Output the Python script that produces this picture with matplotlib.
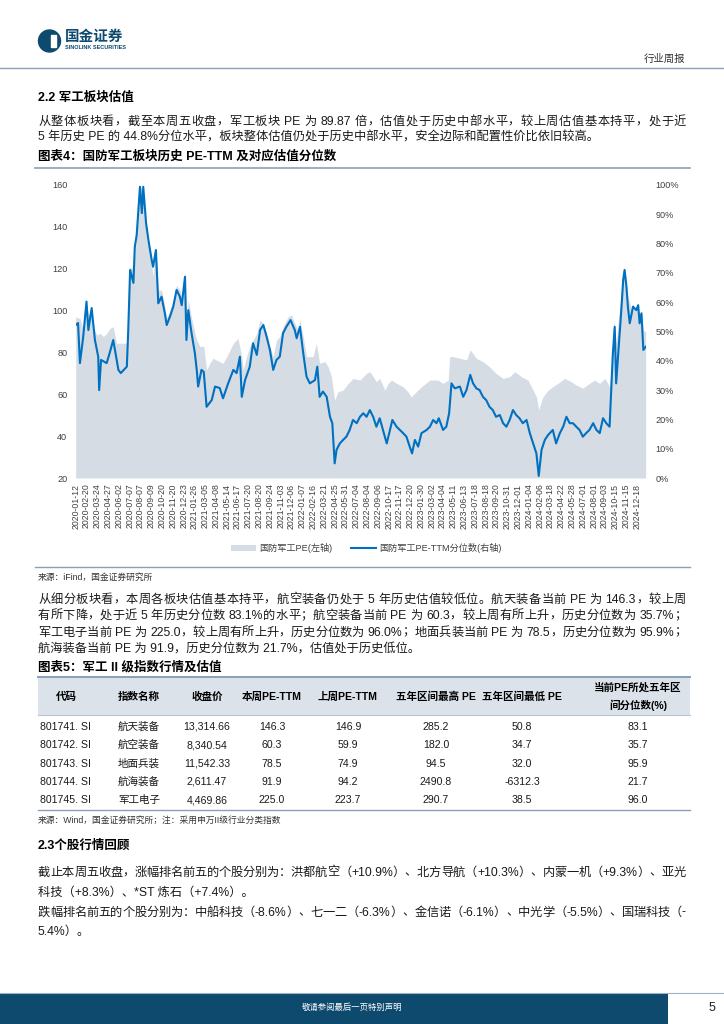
import re
import numpy as np
import matplotlib
matplotlib.use('Agg')
import matplotlib.pyplot as plt
from matplotlib.patches import Rectangle, Ellipse
from matplotlib.font_manager import FontProperties

FONTS = ['Liberation Sans', 'Noto Sans CJK SC']
plt.rcParams['font.family'] = FONTS

# ---- chart data (x = trading-day index, one tick label every 23 days) ----
date_labels = ['2020-01-12', '2020-02-20', '2020-03-24', '2020-04-27', '2020-06-02', '2020-07-07',
               '2020-08-07', '2020-09-09', '2020-10-20', '2020-11-20', '2020-12-23', '2021-01-26',
               '2021-03-05', '2021-04-08', '2021-05-14', '2021-06-17', '2021-07-20', '2021-08-20',
               '2021-09-24', '2021-11-03', '2021-12-06', '2022-01-07', '2022-02-16', '2022-03-21',
               '2022-04-25', '2022-05-31', '2022-07-04', '2022-08-04', '2022-09-06', '2022-10-17',
               '2022-11-17', '2022-12-20', '2023-01-30', '2023-03-02', '2023-04-04', '2023-05-11',
               '2023-06-13', '2023-07-18', '2023-08-18', '2023-09-20', '2023-10-31', '2023-12-01',
               '2024-01-04', '2024-02-06', '2024-03-18', '2024-04-22', '2024-05-28', '2024-07-01',
               '2024-08-01', '2024-09-03', '2024-10-15', '2024-11-15', '2024-12-18']

# 国防军工PE (left axis)
pe_day = [0, 5, 9, 16, 22, 27, 34, 37, 45, 52,
          59, 66, 73, 80, 87, 98, 109, 112, 116, 123,
          130, 137, 144, 148, 151, 158, 165, 171, 176, 183,
          190, 194, 201, 208, 215, 222, 226, 233, 236, 240,
          247, 254, 258, 265, 273, 279, 286, 293, 307, 314,
          322, 329, 336, 346, 354, 357, 364, 371, 378, 386,
          393, 400, 407, 414, 421, 428, 435, 442, 453, 460,
          467, 474, 478, 485, 492, 506, 513, 520, 531, 538,
          545, 552, 559, 570, 581, 591, 606, 620, 627, 634,
          641, 648, 659, 666, 673, 684, 698, 708, 715, 726,
          737, 755, 762, 772, 783, 794, 797, 804, 819, 833,
          841, 854, 868, 882, 896, 911, 925, 936, 950, 964,
          975, 982, 987, 996, 1007, 1017, 1028, 1042, 1056, 1067,
          1081, 1095, 1106, 1117, 1128, 1138, 1142, 1147, 1152, 1159,
          1167, 1170, 1177, 1185, 1195, 1202, 1206, 1210, 1215]
pe_val = [97.1, 96.4, 96.4, 90.7, 104.2, 97.9, 100.3, 92.3, 88.3, 89.1,
          87.5, 89.1, 91.5, 92.3, 84.4, 84.4, 84.4, 92.3, 121.0, 119.4,
          135.3, 159.2, 157.6, 144.8, 133.7, 130.5, 116.2, 130.5, 109.8, 109.8,
          101.8, 96.4, 100.3, 105.0, 112.2, 109.8, 106.0, 117.9, 96.4, 105.0,
          96.4, 89.3, 85.9, 82.7, 83.1, 71.6, 74.9, 77.2, 75.6, 74.8,
          78.0, 81.2, 84.4, 86.7, 78.0, 71.6, 78.0, 82.7, 85.9, 89.1,
          95.5, 93.9, 89.1, 82.7, 78.0, 85.9, 87.5, 92.3, 97.1, 97.9,
          93.9, 90.7, 95.5, 87.5, 78.0, 78.0, 84.4, 74.8, 75.6, 73.2,
          68.4, 57.3, 61.2, 62.0, 65.2, 67.6, 66.8, 70.0, 70.8, 68.4,
          66.0, 67.6, 62.0, 65.2, 66.8, 65.2, 63.6, 61.2, 58.8, 61.2,
          63.6, 66.8, 66.8, 66.8, 65.2, 66.8, 78.0, 78.0, 77.2, 76.4,
          81.2, 77.2, 75.6, 73.2, 70.0, 67.6, 68.4, 70.8, 68.4, 66.8,
          62.0, 58.8, 52.5, 58.8, 62.0, 63.6, 65.2, 67.6, 66.0, 64.4,
          62.9, 65.2, 66.8, 65.2, 67.6, 63.6, 73.2, 95.5, 84.4, 100.3,
          116.2, 119.4, 106.6, 100.3, 101.8, 98.7, 99.5, 90.7, 89.9]

# 国防军工PE-TTM分位数 (right axis, %)
pct_day = [0, 5, 9, 16, 23, 27, 34, 41, 48, 50,
           54, 66, 73, 80, 91, 96, 109, 112, 116, 123,
           126, 130, 137, 141, 144, 150, 155, 162, 165, 171,
           176, 183, 190, 194, 201, 208, 215, 222, 226, 233,
           236, 240, 247, 254, 258, 261, 268, 273, 279, 290,
           297, 307, 314, 325, 336, 343, 350, 354, 361, 371,
           378, 386, 393, 400, 407, 414, 421, 428, 435, 442,
           449, 458, 467, 471, 478, 485, 492, 499, 510, 515,
           520, 527, 535, 542, 547, 552, 556, 563, 570, 577,
           584, 591, 599, 606, 613, 620, 627, 634, 641, 648,
           655, 663, 670, 675, 684, 691, 698, 705, 712, 717,
           723, 730, 737, 748, 755, 762, 769, 774, 783, 790,
           796, 801, 808, 819, 826, 833, 841, 847, 854, 861,
           868, 875, 882, 889, 896, 904, 911, 918, 925, 932,
           939, 946, 953, 961, 968, 975, 982, 987, 993, 1000,
           1007, 1017, 1024, 1032, 1039, 1046, 1053, 1060, 1067, 1074,
           1081, 1088, 1095, 1103, 1110, 1117, 1124, 1131, 1138, 1145,
           1149, 1152, 1156, 1163, 1167, 1170, 1174, 1177, 1181, 1188,
           1195, 1199, 1202, 1206, 1210, 1215]
pct_val = [52.2, 52.9, 39.2, 48.2, 60.2, 50.5, 58.0, 47.1, 41.4, 30.0,
           40.3, 39.2, 43.0, 47.1, 36.9, 35.8, 38.0, 50.5, 71.0, 66.6,
           78.9, 82.9, 99.4, 90.4, 99.4, 87.0, 81.2, 74.4, 72.1, 77.8,
           59.6, 61.9, 56.2, 52.2, 55.1, 58.5, 64.2, 61.9, 59.0, 68.7,
           47.1, 57.3, 49.4, 42.6, 36.9, 31.2, 36.9, 36.2, 24.3, 26.6,
           31.2, 30.7, 27.2, 32.3, 36.9, 35.8, 41.4, 27.7, 33.4, 38.0,
           46.0, 42.0, 50.5, 52.2, 48.2, 43.7, 36.9, 40.3, 41.4, 49.4,
           51.6, 53.9, 50.5, 47.7, 51.6, 42.6, 34.6, 32.3, 33.4, 38.0,
           27.7, 29.5, 27.7, 20.9, 18.7, 5.0, 9.6, 11.8, 13.0, 14.1,
           16.4, 19.8, 18.7, 20.9, 22.1, 20.9, 23.2, 20.9, 17.5, 20.4,
           16.4, 11.8, 16.4, 19.8, 17.5, 16.4, 15.3, 14.1, 10.7, 8.4,
           13.0, 10.7, 15.3, 16.4, 17.5, 19.8, 18.7, 20.4, 16.4, 17.5,
           22.1, 32.3, 30.6, 31.2, 27.7, 30.0, 35.2, 32.3, 30.6, 30.0,
           27.7, 26.6, 24.3, 23.2, 20.9, 21.5, 18.7, 17.5, 19.8, 23.2,
           21.5, 20.4, 18.7, 19.8, 15.3, 11.8, 8.4, 0.7, 9.6, 13.0,
           14.7, 16.4, 11.8, 15.3, 17.5, 20.9, 18.7, 18.7, 17.5, 16.4,
           14.1, 15.3, 16.4, 18.7, 16.4, 15.3, 20.4, 18.7, 17.5, 42.6,
           51.6, 32.3, 41.4, 57.3, 67.6, 71.0, 65.3, 58.5, 52.8, 58.5,
           57.3, 59.0, 52.8, 56.2, 43.7, 44.8]

# ---- table data ----
tbl_header = ['代码', '指数名称', '收盘价', '本周PE-TTM', '上周PE-TTM',
              '五年区间最高 PE', '五年区间最低 PE', '当前PE所处五年区\n间分位数(%)']
codes = ['801741. SI', '801742. SI', '801743. SI', '801744. SI', '801745. SI']
names = ['航天装备', '航空装备', '地面兵装', '航海装备', '军工电子']
close = ['13,314.66', '8,340.54', '11,542.33', '2,611.47', '4,469.86']
pe_this = [146.3, 60.3, 78.5, 91.9, 225.0]
pe_last = [146.9, 59.9, 74.9, 94.2, 223.7]
pe_max = [285.2, 182.0, 94.5, 2490.8, 290.7]
pe_min = [50.8, 34.7, 32.0, -6312.3, 38.5]
pe_pct = [83.1, 35.7, 95.9, 21.7, 96.0]

para1 = ['从整体板块看，截至本周五收盘，军工板块 PE 为 89.87 倍，估值处于历史中部水平，较上周估值基本持平，处于近',
         '5 年历史 PE 的 44.8%分位水平，板块整体估值仍处于历史中部水平，安全边际和配置性价比依旧较高。']
para2 = ['从细分板块看，本周各板块估值基本持平，航空装备仍处于 5 年历史估值较低位。航天装备当前 PE 为 146.3，较上周',
         '有所下降，处于近 5 年历史分位数 83.1%的水平；航空装备当前 PE 为 60.3，较上周有所上升，历史分位数为 35.7%；',
         '军工电子当前 PE 为 225.0，较上周有所上升，历史分位数为 96.0%；地面兵装当前 PE 为 78.5，历史分位数为 95.9%；',
         '航海装备当前 PE 为 91.9，历史分位数为 21.7%，估值处于历史低位。']
para3 = ['截止本周五收盘，涨幅排名前五的个股分别为：洪都航空（+10.9%）、北方导航（+10.3%）、内蒙一机（+9.3%）、亚光',
         '科技（+8.3%）、*ST 炼石（+7.4%）。',
         '跌幅排名前五的个股分别为：中船科技（-8.6%）、七一二（-6.3%）、金信诺（-6.1%）、中光学（-5.5%）、国瑞科技（-',
         '5.4%）。']

NAVY = '#0d4a6e'
RULE = '#8c9fb5'
TXT = '#1a1a1a'

W, H = 724, 1024
fig = plt.figure(figsize=(W / 100, H / 100), dpi=100)
renderer = fig.canvas.get_renderer()


def fx(x):
    return x / W


def fy(y):
    return 1 - y / H


def put(x, y, s, size, **kw):
    kw.setdefault('va', 'center')
    kw.setdefault('ha', 'left')
    kw.setdefault('color', TXT)
    return fig.text(fx(x), fy(y), s, fontsize=size, **kw)


def put_base(x, y, s, size, **kw):
    # y is the visual middle of the line; place on a shared baseline
    return put(x, y + 0.37 * size * 100 / 72, s, size, va='baseline', **kw)


def hline(y, x0, x1, color=RULE, lw=1.0):
    fig.add_artist(plt.Line2D([fx(x0), fx(x1)], [fy(y), fy(y)], color=color, lw=lw,
                              transform=fig.transFigure))


def width_px(s, size):
    fp = FontProperties(family=FONTS, size=size)
    return renderer.get_text_width_height_descent(s, fp, ismath=False)[0]


def body_line(y, s, size=8.8, justify=True, x0=38, x1=686):
    if not justify:
        put_base(x0, y, s, size)
        return
    tokens = list(re.finditer(r'[A-Za-z0-9.%+\-*]+|\S', s))
    gap = (x1 - x0 - width_px(s, size)) / (len(tokens) - 1)
    for i, m in enumerate(tokens):
        right = x0 + width_px(s[:m.end()], size) + i * gap
        put_base(right, y, m.group(), size, ha='right')


# ---- page header ----
fig.add_artist(Ellipse((fx(49.5), fy(41)), 22 / W, 22 / H, color=NAVY, transform=fig.transFigure))
fig.add_artist(Rectangle((fx(51), fy(47)), 5 / W, 12 / H, color='white', transform=fig.transFigure))
put(65, 37, '国金证券', 10.5, weight='bold', color=NAVY)
put(65, 47.5, 'SINOLINK SECURITIES', 4, weight='bold', color=NAVY)
put(685, 59, '行业周报', 7.5, ha='right', color='#333333')
hline(67.5, 0, W, lw=1.0)

# ---- section 2.2 ----
put(38, 98, '2.2 军工板块估值', 9, weight='bold', color='black')
body_line(120, para1[0])
body_line(136.5, para1[1], justify=False)

put(38, 157, '图表4：国防军工板块历史 PE-TTM 及对应估值分位数', 9, weight='bold', color='black')
hline(168, 35, 690, lw=1.2)

# ---- chart ----
ax = fig.add_axes([fx(75.7), fy(478), (645.7 - 75.7) / W, (478 - 185) / H])
fill = ax.fill_between(pe_day, 20, pe_val, color='#d6dce4', lw=0, label='国防军工PE(左轴)')
ax.set_xlim(0, 1215)
ax.set_ylim(20, 160)
ax.set_yticks(range(20, 161, 20))
ax.set_xticks(np.arange(len(date_labels)) * 23)
ax.set_xticklabels(date_labels, rotation=90)

ax2 = ax.twinx()
line, = ax2.plot(pct_day, pct_val, color='#0070c0', lw=1.5, label='国防军工PE-TTM分位数(右轴)')
ax2.set_ylim(0, 100)
ax2.set_yticks(range(0, 101, 10))
ax2.set_yticklabels([f'{v}%' for v in range(0, 101, 10)])
ax2.set_xlim(0, 1215)

for a in (ax, ax2):
    for s in a.spines.values():
        s.set_visible(False)
    a.tick_params(length=0, labelsize=6.6, colors='#404040')
ax.tick_params(axis='x', labelsize=6.3, pad=4)
ax.tick_params(axis='y', pad=6)
ax2.tick_params(axis='y', pad=7)

fig.legend(handles=[fill, line], loc='center', bbox_to_anchor=(fx(366), fy(548)), ncol=2,
           frameon=False, fontsize=6.6, handlelength=2.8, handletextpad=0.3, columnspacing=2.0,
           labelcolor='#404040')

hline(567, 35, 690, lw=1.0)
put(38, 577, '来源：iFind，国金证券研究所', 6.3, color='#333333')

# ---- detail paragraph ----
for i, (y, s) in enumerate(zip([598, 614.5, 631, 647.5], para2)):
    body_line(y, s, justify=i < 3)

# ---- table ----
put(38, 667, '图表5：军工 II 级指数行情及估值', 9, weight='bold', color='black')
fig.add_artist(Rectangle((fx(38), fy(715)), (690 - 38) / W, (715 - 677) / H, color='#dbe2ea',
                         lw=0, transform=fig.transFigure))
hline(677, 38, 690, lw=1.4)
hline(715, 38, 690, color='#b9c5d3', lw=0.8)
hline(810, 38, 690, lw=1.0)

col_x = [66, 139, 207, 272, 348, 436, 522, 638]
for x, h in zip(col_x[:-1], tbl_header[:-1]):
    put_base(x, 696, h, 7.6, ha='center', weight='bold', color='black')
top, bottom = tbl_header[-1].split('\n')
put_base(col_x[-1], 687, top, 7.6, ha='center', weight='bold', color='black')
put_base(col_x[-1], 705, bottom, 7.6, ha='center', weight='bold', color='black')

row_y = [726, 744.3, 762.7, 781, 799.3]
for r, y in enumerate(row_y):
    cells = [codes[r], names[r], close[r], f'{pe_this[r]:.1f}', f'{pe_last[r]:.1f}',
             f'{pe_max[r]:.1f}', f'{pe_min[r]:.1f}', f'{pe_pct[r]:.1f}']
    for x, c in zip(col_x, cells):
        put_base(x, y, c, 7.6, ha='center')

put(38, 820, '来源：Wind，国金证券研究所；注：采用申万II级行业分类指数', 6.3, color='#333333')

# ---- section 2.3 ----
put(38, 846, '2.3个股行情回顾', 9, weight='bold', color='black')
for i, (y, s) in enumerate(zip([871, 891, 911, 930], para3)):
    body_line(y, s, justify=i in (0, 2))

# ---- footer ----
hline(992.5, 0, W, color='#9fb0c2', lw=0.8)
fig.add_artist(Rectangle((0, 0), fx(668), (1024 - 993) / H, color=NAVY, lw=0,
                         transform=fig.transFigure))
put(352, 1008, '敬请参阅最后一页特别声明', 6, ha='center', color='white')
put(712, 1008, '5', 9, ha='center', color='#222222')

fig.savefig('out.png', dpi=100)
